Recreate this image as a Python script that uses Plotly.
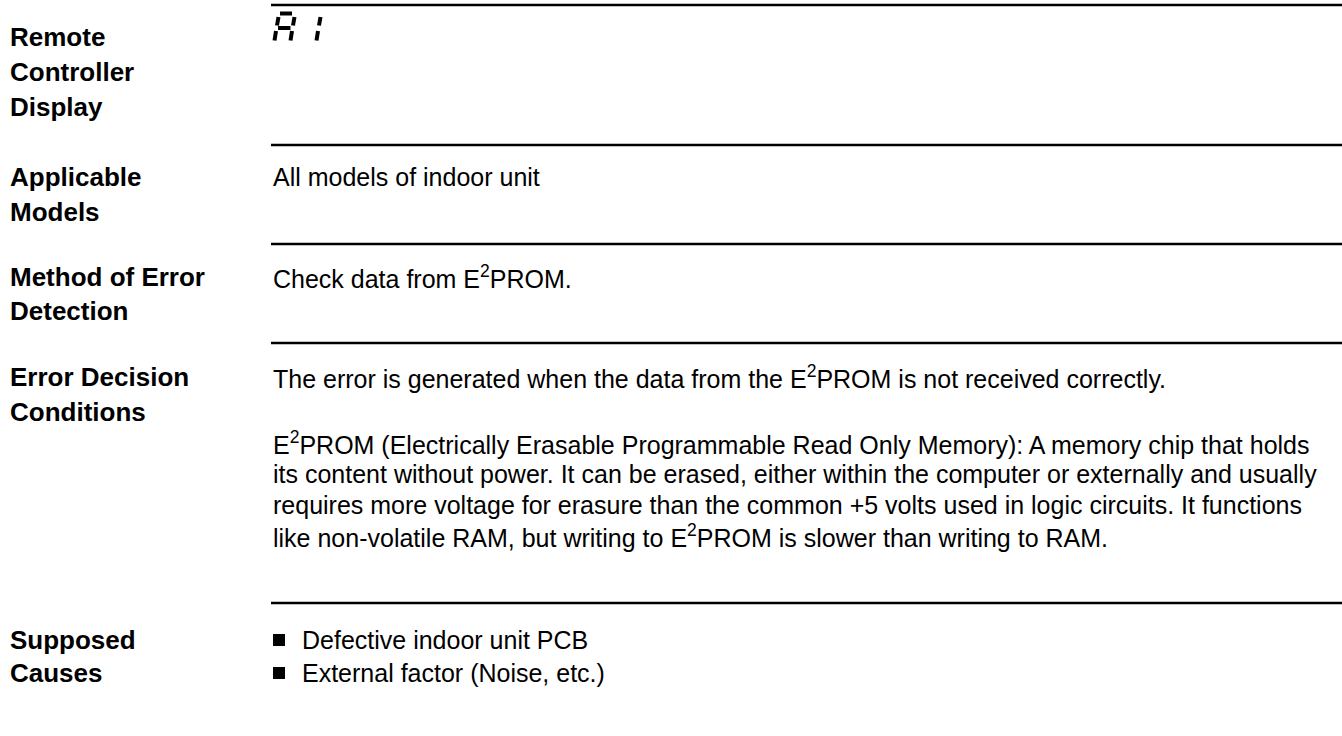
import plotly.graph_objects as go

# ---- content ----
section_labels = [
    ["Remote", "Controller", "Display"],
    ["Applicable", "Models"],
    ["Method of Error", "Detection"],
    ["Error Decision", "Conditions"],
    ["Supposed", "Causes"],
]
section_label_y = [37, 177, 277, 377, 640]
section_label_dy = [35, 35, 34, 35, 33]

body_lines = [
    ("All models of indoor unit", 177),
    ("Check data from E<sup>2</sup>PROM.", 277),
    ("The error is generated when the data from the E<sup>2</sup>PROM is not received correctly.", 377),
    ("E<sup>2</sup>PROM (Electrically Erasable Programmable Read Only Memory): A memory chip that holds", 443),
    ("its content without power. It can be erased, either within the computer or externally and usually", 474),
    ("requires more voltage for erasure than the common +5 volts used in logic circuits. It functions", 505),
    ("like non-volatile RAM, but writing to E<sup>2</sup>PROM is slower than writing to RAM.", 536),
]
bullet_items = ["Defective indoor unit PCB", "External factor (Noise, etc.)"]
bullet_y = [640, 673]

rule_y = [5, 145, 244, 343, 603]

W, H = 1342, 736
LABEL_X = 8
BODY_X = 271
LABEL_FONT = dict(family="Liberation Sans, Arial, sans-serif", size=26, color="#000")
BODY_FONT = dict(family="Liberation Sans, Arial, sans-serif", size=25, color="#000")

fig = go.Figure()
fig.add_trace(go.Scatter(x=[0, W], y=[0, H], mode="markers",
                         marker=dict(opacity=0), hoverinfo="skip", showlegend=False))

ann = []
for lines, y0, dy in zip(section_labels, section_label_y, section_label_dy):
    for i, t in enumerate(lines):
        ann.append(dict(x=LABEL_X, y=y0 + i * dy, text="<b>" + t + "</b>",
                        xanchor="left", yanchor="middle", showarrow=False,
                        font=LABEL_FONT, xref="x", yref="y"))
for t, y in body_lines:
    ann.append(dict(x=BODY_X, y=y, text=t, xanchor="left", yanchor="middle",
                    showarrow=False, font=BODY_FONT, xref="x", yref="y"))
for t, y in zip(bullet_items, bullet_y):
    ann.append(dict(x=300, y=y, text=t, xanchor="left", yanchor="middle",
                    showarrow=False, font=BODY_FONT, xref="x", yref="y"))

shapes = []
for y in rule_y:
    shapes.append(dict(type="line", xref="x", yref="y", x0=BODY_X, x1=W, y0=y, y1=y,
                       line=dict(color="#000", width=2.5)))
for y in bullet_y:
    shapes.append(dict(type="rect", xref="x", yref="y", x0=273, x1=285, y0=y - 6, y1=y + 6,
                       fillcolor="#000", line=dict(width=0)))

# seven-segment style "A1" display glyph
segs = [
    ((280, 13.5), (292, 13.5)),   # A top
    ((278.5, 17), (277, 25.5)),   # A upper-left
    ((294.5, 17), (293, 25.5)),   # A upper-right
    ((278, 28), (290.5, 28)),     # A middle
    ((276, 31), (274.5, 40.5)),   # A lower-left
    ((292, 31), (290.5, 40.5)),   # A lower-right
    ((320.5, 17), (319, 25.5)),   # 1 upper
    ((318, 31), (316.5, 40.5)),   # 1 lower
]
for (xa, ya), (xb, yb) in segs:
    shapes.append(dict(type="line", xref="x", yref="y", x0=xa, y0=ya, x1=xb, y1=yb,
                       line=dict(color="#000", width=4)))

fig.update_layout(
    width=W, height=H, margin=dict(l=0, r=0, t=0, b=0),
    paper_bgcolor="white", plot_bgcolor="white",
    xaxis=dict(range=[0, W], visible=False, fixedrange=True),
    yaxis=dict(range=[H, 0], visible=False, fixedrange=True),
    annotations=ann, shapes=shapes, showlegend=False,
)

fig.write_html("out.html", include_plotlyjs=True,
               config={"displayModeBar": False},
               post_script="document.body.style.margin='0';document.body.style.overflow='hidden';")
